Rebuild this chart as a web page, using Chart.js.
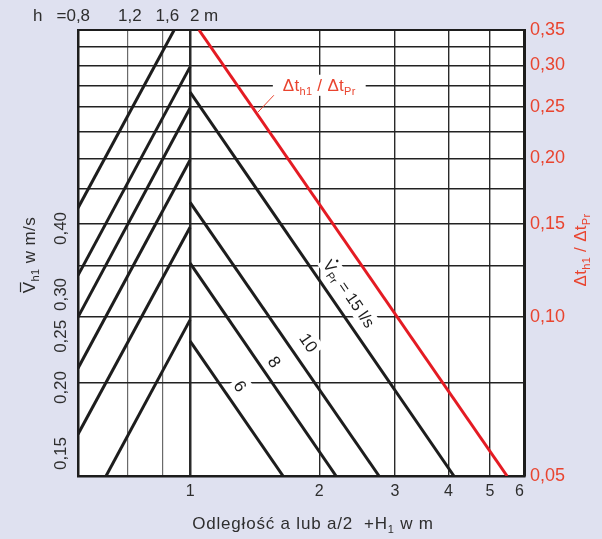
<!DOCTYPE html>
<html>
<head>
<meta charset="utf-8">
<script src="https://cdn.jsdelivr.net/npm/chart.js@4.4.1/dist/chart.umd.min.js"></script>
<style>
  html, body { margin: 0; padding: 0; background: #dfe1f0; }
</style>
</head>
<body>
<canvas id="nomo" width="602" height="539"></canvas>
<script>
// ============================================
// Nomogram: Δt_h1/Δt_Pr vs distance (log-log)
// ============================================

// ---- axis ranges ----
const distMin = 0.548, distMax = 6;       // bottom axis, m
const hMin = 0.8, hMax = 30.8;            // top axis, h in m
const ratioMin = 0.05, ratioMax = 0.35;   // right axis, Δt_h1/Δt_Pr
const velMin = 0.136, velMax = 0.95;      // left axis, v_h1 in m/s

// ---- tick values ----
const distTicks = [1, 2, 3, 4, 5, 6];
const hTicks = [0.8, 1.2, 1.6, 2];
const hLabels = ['h   =0,8       ', ' 1,2', '  1,6', '      2 m'];
const ratioTicks = [0.05, 0.075, 0.1, 0.125, 0.15, 0.175, 0.2, 0.225, 0.25, 0.275, 0.3, 0.325, 0.35];
const velTicks = [0.15, 0.2, 0.25, 0.3, 0.4];

// ---- rising lines (left part), start/end as (distance, ratio) ----
const risingX0 = [0.548, 0.548, 0.548, 0.548, 0.548, 0.637];
const risingY0 = [0.161, 0.120, 0.100, 0.080, 0.060, 0.050];
const risingX1 = [0.918, 1, 1, 1, 1, 1];
const risingY1 = [0.350, 0.298, 0.249, 0.1985, 0.148, 0.0988];

// ---- falling lines V̇_Pr (l/s): ratio at distance 1, distance at ratio 0.05 ----
const flowNames = ['15', '10', '8', '6'];
const flowY0 = [0.267, 0.165, 0.1266, 0.0901];
const flowX1 = [4.12, 2.757, 2.189, 1.647];

// ---- red line Δt_h1/Δt_Pr ----
const redX = [1.049, 5.48];
const redY = [0.35, 0.05];

// ---- styles ----
const FONT = '"Liberation Sans", Arial, Helvetica, sans-serif';
const BLACK = '#1d1d1d';
const RED_LINE = '#e41b23';
const RED_TEXT = '#e9442f';
const TEXT = '#2e2e2e';
const BG = '#dfe1f0';

Chart.defaults.font.family = FONT;

// ------------------------------------------
// Build datasets
// ------------------------------------------
function lineSet(points, color) {
    return {
        data: points,
        showLine: true,
        borderColor: color,
        borderWidth: 3,
        pointRadius: 0,
        fill: false,
        xAxisID: 'x',
        yAxisID: 'y'
    };
}

const datasets = [];
risingX0.forEach((x0, i) => {
    datasets.push(lineSet([{ x: x0, y: risingY0[i] }, { x: risingX1[i], y: risingY1[i] }], BLACK));
});
flowY0.forEach((y0, i) => {
    datasets.push(lineSet([{ x: 1, y: y0 }, { x: flowX1[i], y: ratioMin }], BLACK));
});
datasets.push(lineSet(redX.map((x, i) => ({ x, y: redY[i] })), RED_LINE));

// ------------------------------------------
// Rich text (subscripts, overbar, dot)
// ------------------------------------------
function subSize(size) { return Math.round(size * 0.66); }

function measureRich(ctx, segs, size) {
    let w = 0;
    segs.forEach(s => {
        ctx.font = (s.sub ? subSize(size) : size) + 'px ' + FONT;
        s._w = ctx.measureText(s.t).width;
        w += s._w;
    });
    return w;
}

function drawRich(ctx, segs, cx, cy, angle, size, color, box, spacing) {
    ctx.save();
    ctx.translate(cx, cy);
    ctx.rotate(angle);
    if (spacing) ctx.letterSpacing = spacing + 'px';
    const w = measureRich(ctx, segs, size);
    if (box) {
        ctx.fillStyle = '#ffffff';
        ctx.fillRect(-w / 2 - box, -size * 0.62, w + box * 2, size * 1.24);
    }
    ctx.fillStyle = color;
    ctx.strokeStyle = color;
    ctx.textAlign = 'left';
    ctx.textBaseline = 'alphabetic';
    const base = size * 0.36;
    let x = -w / 2;
    segs.forEach(s => {
        ctx.font = (s.sub ? subSize(size) : size) + 'px ' + FONT;
        ctx.fillText(s.t, x, s.sub ? base + size * 0.22 : base);
        if (s.bar) {
            ctx.lineWidth = 1.2;
            ctx.beginPath();
            ctx.moveTo(x + 1, base - size * 0.86);
            ctx.lineTo(x + s._w - 1, base - size * 0.86);
            ctx.stroke();
        }
        if (s.dot) {
            ctx.beginPath();
            ctx.arc(x + s._w / 2, base - size * 0.9, 1.3, 0, Math.PI * 2);
            ctx.fill();
        }
        x += s._w;
    });
    ctx.restore();
    return w;
}

const ratioTitle = [{ t: 'Δt' }, { t: 'h1', sub: true }, { t: ' / ' }, { t: 'Δt' }, { t: 'Pr', sub: true }];
const velTitle = [{ t: 'V', bar: true }, { t: 'h1', sub: true }, { t: ' w m/s' }];
const distTitle = [{ t: 'Odległość a lub a/2  +H' }, { t: '1', sub: true }, { t: ' w m' }];

// label placement along the falling lines (fraction, offset px)
const flowLabelT = [0.55, 0.55, 0.50, 0.40];
const flowLabelOff = [17, 18, 14, 16];

// ------------------------------------------
// Plugin: background, titles, annotations
// ------------------------------------------
const nomoPlugin = {
    id: 'nomo',
    beforeDraw(chart) {
        const { ctx, chartArea: a } = chart;
        ctx.save();
        ctx.fillStyle = BG;
        ctx.fillRect(0, 0, chart.width, chart.height);
        ctx.fillStyle = '#ffffff';
        ctx.fillRect(a.left, a.top, a.right - a.left, a.bottom - a.top);
        ctx.restore();
    },
    afterDatasetsDraw(chart) {
        const { ctx, chartArea: a, scales } = chart;
        const sx = scales.x, sy = scales.y;
        const midY = (a.top + a.bottom) / 2;

        // axis titles
        drawRich(ctx, velTitle, 29, midY + 2, -Math.PI / 2, 17, TEXT, 0, 0.4);
        drawRich(ctx, ratioTitle, a.right + 56, midY - 3, -Math.PI / 2, 17, RED_TEXT, 0, 0.3);
        drawRich(ctx, distTitle, (a.left + a.right) / 2 + 12, a.bottom + 47, 0, 17, TEXT, 0, 0.8);

        // labels on the falling lines
        flowNames.forEach((name, i) => {
            const x0 = sx.getPixelForValue(1), y0 = sy.getPixelForValue(flowY0[i]);
            const x1 = sx.getPixelForValue(flowX1[i]), y1 = sy.getPixelForValue(ratioMin);
            const dx = x1 - x0, dy = y1 - y0, len = Math.hypot(dx, dy);
            const t = flowLabelT[i], off = flowLabelOff[i];
            const cx = x0 + dx * t + dy / len * off;
            const cy = y0 + dy * t - dx / len * off;
            const segs = i === 0
                ? [{ t: 'V', dot: true }, { t: 'Pr', sub: true }, { t: ' = 15 l/s' }]
                : [{ t: name }];
            drawRich(ctx, segs, cx, cy, Math.atan2(dy, dx), i === 0 ? 16 : 17, BLACK, 3);
        });

        // red curve label with leader
        const lx = sx.getPixelForValue(2), ly = sy.getPixelForValue(0.275);
        const w = drawRich(ctx, ratioTitle, lx, ly, 0, 17, RED_TEXT, 10, 0.3);
        const bx = lx - w / 2 - 9, by = ly + 10;
        const rx0 = sx.getPixelForValue(redX[0]), ry0 = sy.getPixelForValue(redY[0]);
        const rx1 = sx.getPixelForValue(redX[1]), ry1 = sy.getPixelForValue(redY[1]);
        const sy0 = by + 17;
        const sx0 = rx0 + (rx1 - rx0) * (sy0 - ry0) / (ry1 - ry0) + 2;
        ctx.save();
        ctx.strokeStyle = RED_TEXT;
        ctx.lineWidth = 1;
        ctx.beginPath();
        ctx.moveTo(sx0, sy0);
        ctx.lineTo(bx, by);
        ctx.stroke();
        ctx.restore();
    }
};

// ------------------------------------------
// Chart
// ------------------------------------------
const fmt = v => v.toFixed(2).replace('.', ',');

new Chart(document.getElementById('nomo'), {
    type: 'scatter',
    data: { datasets },
    plugins: [nomoPlugin],
    options: {
        responsive: false,
        devicePixelRatio: 1,
        animation: false,
        layout: { padding: 0 },
        plugins: { legend: { display: false }, tooltip: { enabled: false } },
        scales: {
            x: {
                type: 'logarithmic',
                position: 'bottom',
                min: distMin,
                max: distMax,
                afterBuildTicks: s => { s.ticks = distTicks.map(v => ({ value: v })); },
                afterFit: s => { s.height = 63; },
                ticks: {
                    callback: v => (v === 6 ? '6  ' : String(v)),
                    color: TEXT,
                    font: { size: 16 },
                    padding: 6,
                    autoSkip: false,
                    maxRotation: 0
                },
                grid: {
                    drawTicks: false,
                    color: '#2a2a2a',
                    lineWidth: c => (c.tick && c.tick.value === 1 ? 2.5 : 1.4)
                },
                border: { display: true, color: BLACK, width: 2.5 }
            },
            h: {
                type: 'logarithmic',
                axis: 'x',
                position: 'top',
                min: hMin,
                max: hMax,
                afterBuildTicks: s => { s.ticks = hTicks.map(v => ({ value: v })); },
                afterFit: s => { s.height = 30; },
                ticks: {
                    callback: v => hLabels[hTicks.indexOf(v)],
                    color: TEXT,
                    font: { size: 17 },
                    padding: 3,
                    autoSkip: false,
                    maxRotation: 0
                },
                grid: {
                    drawTicks: false,
                    color: c => (c.tick && (c.tick.value === 1.2 || c.tick.value === 1.6) ? '#6a6a6a' : 'rgba(0,0,0,0)'),
                    lineWidth: 1.2
                },
                border: { display: true, color: BLACK, width: 2 }
            },
            v: {
                type: 'logarithmic',
                axis: 'y',
                position: 'left',
                min: velMin,
                max: velMax,
                afterBuildTicks: s => { s.ticks = velTicks.map(v => ({ value: v })); },
                afterFit: s => { s.width = 78; },
                ticks: {
                    callback: v => fmt(v),
                    color: TEXT,
                    font: { size: 17 },
                    padding: 0,
                    minRotation: 90,
                    maxRotation: 90,
                    crossAlign: 'center',
                    autoSkip: false
                },
                grid: { display: false, drawTicks: false },
                border: { display: true, color: BLACK, width: 2.5 }
            },
            y: {
                type: 'logarithmic',
                position: 'right',
                min: ratioMin,
                max: ratioMax,
                afterBuildTicks: s => { s.ticks = ratioTicks.map(v => ({ value: v })); },
                afterFit: s => { s.width = 78; },
                ticks: {
                    callback: v => (Math.round(v * 1000) % 50 === 0 ? fmt(v) : ''),
                    color: RED_TEXT,
                    font: { size: 18 },
                    padding: 6,
                    autoSkip: false
                },
                grid: { drawTicks: false, color: '#222222', lineWidth: 1.4 },
                border: { display: true, color: BLACK, width: 3 }
            }
        }
    }
});
</script>
</body>
</html>
